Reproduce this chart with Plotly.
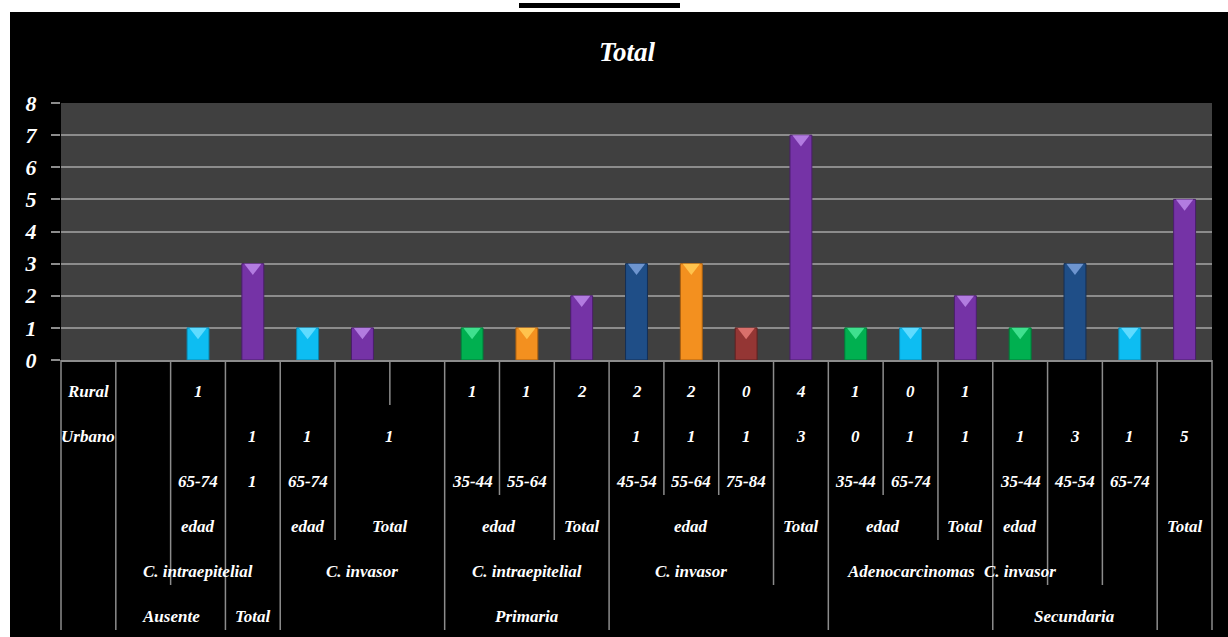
import plotly.graph_objects as go

# ---- data -------------------------------------------------------------
# One column per category of the pivot table (left to right).
n_cols = 21
totales = [None, None, 1, 3, 1, 1, None, 1, 1, 2, 3, 3, 1, 7, 1, 1, 2, 1, 3, 1, 5]

# Multi-level category labels: (text, first column, last column)
nivel_1 = [("Rural", 0, 0), ("1", 2, 2), ("1", 7, 7), ("1", 8, 8), ("2", 9, 9),
           ("2", 10, 10), ("2", 11, 11), ("0", 12, 12), ("4", 13, 13),
           ("1", 14, 14), ("0", 15, 15), ("1", 16, 16)]
nivel_2 = [("Urbano", 0, 0), ("1", 3, 3), ("1", 4, 4), ("1", 5, 6), ("1", 10, 10),
           ("1", 11, 11), ("1", 12, 12), ("3", 13, 13), ("0", 14, 14),
           ("1", 15, 15), ("1", 16, 16), ("1", 17, 17), ("3", 18, 18),
           ("1", 19, 19), ("5", 20, 20)]
nivel_3 = [("65-74", 2, 2), ("1", 3, 3), ("65-74", 4, 4), ("35-44", 7, 7),
           ("55-64", 8, 8), ("45-54", 10, 10), ("55-64", 11, 11), ("75-84", 12, 12),
           ("35-44", 14, 14), ("65-74", 15, 15), ("35-44", 17, 17),
           ("45-54", 18, 18), ("65-74", 19, 19)]
nivel_4 = [("edad", 2, 2), ("edad", 4, 4), ("Total", 5, 6), ("edad", 7, 8),
           ("Total", 9, 9), ("edad", 10, 12), ("Total", 13, 13), ("edad", 14, 15),
           ("Total", 16, 16), ("edad", 17, 17), ("Total", 20, 20)]
nivel_5 = [("C. intraepitelial", 2, 2), ("C. invasor", 5, 5),
           ("C. intraepitelial", 7, 9), ("C. invasor", 10, 12),
           ("Adenocarcinomas", 14, 16), ("C. invasor", 17, 17)]
nivel_6 = [("Ausente", 1, 2), ("Total", 3, 3), ("Primaria", 7, 9),
           ("Secundaria", 17, 19)]
niveles = [nivel_1, nivel_2, nivel_3, nivel_4, nivel_5, nivel_6]

# How many label levels each column divider runs through (dividers 0..21)
divisor_niveles = [6, 6, 5, 6, 6, 4, 1, 6, 3, 4, 6, 3, 3, 5, 6, 3, 4, 6, 5, 5, 6, 6]

# ---- styling ------------------------------------------------------------
CYAN, PURPLE, GREEN = "#0DBDF2", "#7533A6", "#00B050"
ORANGE, BLUE, RED = "#F3901F", "#1F4E87", "#943634"
HIGHLIGHT = {CYAN: "#5FDBFF", PURPLE: "#B27CE0", GREEN: "#3FE08E",
             ORANGE: "#FFC34D", BLUE: "#6E95CF", RED: "#D9706B"}
EDGE = {CYAN: "#0A86AD", PURPLE: "#4A1F6B", GREEN: "#007A38",
        ORANGE: "#A85F10", BLUE: "#142F55", RED: "#5E2120"}
bar_colors = [None, None, CYAN, PURPLE, CYAN, PURPLE, None, GREEN, ORANGE, PURPLE,
              BLUE, ORANGE, RED, PURPLE, GREEN, CYAN, PURPLE, GREEN, BLUE, CYAN, PURPLE]

W, H = 1228, 637
M_L, M_R, M_T, M_B = 61, 16, 103, 277
PLOT_W = W - M_L - M_R
PLOT_H = H - M_T - M_B
PLOT_BOTTOM = H - M_B

GRID = "#8C8C8C"
FONT = dict(family="Liberation Serif, Times New Roman, serif", color="white",
            style="italic", weight="bold")


def py2paper(py):
    return (PLOT_BOTTOM - py) / PLOT_H


def px2paper(px):
    return (px - M_L) / PLOT_W


xs = list(range(n_cols))
fill = [c if c else "rgba(0,0,0,0)" for c in bar_colors]
edge = [EDGE[c] if c else "rgba(0,0,0,0)" for c in bar_colors]
light = [HIGHLIGHT[c] if c else "rgba(0,0,0,0)" for c in bar_colors]

fig = go.Figure()
fig.add_trace(go.Bar(
    x=xs, y=totales, width=0.4,
    marker=dict(color=fill, line=dict(color=edge, width=1)),
    hoverinfo="y", showlegend=False,
))
# bevel highlight on top of every bar (secondary axis shifted a few pixels)
fig.add_trace(go.Scatter(
    x=xs, y=totales, yaxis="y2", mode="markers",
    marker=dict(symbol="triangle-down", size=15, color=light, line=dict(width=0)),
    hoverinfo="skip", showlegend=False,
))

shapes = []
# white surround and heading rule
shapes.append(dict(type="rect", xref="paper", yref="paper", layer="above",
                   x0=px2paper(0), x1=px2paper(W), y0=py2paper(12), y1=py2paper(0),
                   fillcolor="white", line=dict(width=0)))
shapes.append(dict(type="rect", xref="paper", yref="paper", layer="above",
                   x0=px2paper(0), x1=px2paper(10), y0=py2paper(H), y1=py2paper(12),
                   fillcolor="white", line=dict(width=0)))
shapes.append(dict(type="rect", xref="paper", yref="paper", layer="above",
                   x0=px2paper(519), x1=px2paper(680), y0=py2paper(8), y1=py2paper(3),
                   fillcolor="black", line=dict(width=0)))

# column dividers of the category table
ROW_H = 45
for k, depth in enumerate(divisor_niveles):
    shapes.append(dict(type="line", xref="paper", yref="paper",
                       x0=k / n_cols, x1=k / n_cols,
                       y0=0, y1=py2paper(PLOT_BOTTOM + ROW_H * depth),
                       line=dict(color=GRID, width=1.5)))

annotations = [dict(text="Total", xref="paper", yref="paper",
                    x=px2paper(627), y=py2paper(52), showarrow=False,
                    xanchor="center", yanchor="middle",
                    font=dict(FONT, size=27))]
for r, nivel in enumerate(niveles):
    for texto, a, b in nivel:
        annotations.append(dict(
            text=texto, xref="x", yref="paper", x=(a + b) / 2,
            y=py2paper(PLOT_BOTTOM + 31 + ROW_H * r),
            showarrow=False, xanchor="center", yanchor="middle",
            font=dict(FONT, size=17)))

fig.update_layout(
    width=W, height=H,
    margin=dict(l=M_L, r=M_R, t=M_T, b=M_B, pad=0),
    paper_bgcolor="black", plot_bgcolor="#404040",
    bargap=0.6,
    xaxis=dict(range=[-0.5, n_cols - 0.5], showticklabels=False, showgrid=False,
               zeroline=False, showline=True, linecolor=GRID, linewidth=1.5,
               ticks="", fixedrange=True),
    yaxis=dict(range=[0, 8], dtick=1, showgrid=True, gridcolor=GRID, gridwidth=1.5,
               ticks="outside", ticklen=9, tickcolor=GRID, tickwidth=1.5,
               ticklabelstandoff=10, zeroline=False, showline=False,
               tickfont=dict(FONT, size=22), fixedrange=True),
    yaxis2=dict(range=[0.12, 8.12], overlaying="y", visible=False, fixedrange=True),
    shapes=shapes, annotations=annotations,
)

fig.write_html("out.html")
